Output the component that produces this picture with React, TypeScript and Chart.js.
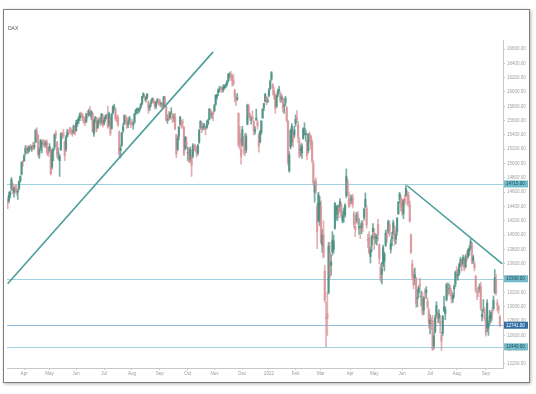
import { useEffect, useRef } from 'react';
import { Chart, registerables } from 'chart.js';

Chart.register(...registerables);

// DAX daily candles, 15 Mar 2021 – 16 Sep 2022 (one line per month)
const opens = [
  14480,14480,14560,14650,14700,14600,14670,14650,14600,14650,14760,14850,15020,
  15040,15150,15220,15180,15200,15240,15210,15250,15230,15300,15450,15390,15130,15220,15270,15310,15290,15260,15300,15160,
  15180,15200,14950,15180,15230,15420,15300,15150,15040,15200,15400,15420,15300,15200,15380,15450,15470,15470,15450,15430,15510,
  15460,15560,15600,15640,15690,15680,15650,15590,15590,15700,15680,15730,15650,15700,15420,15600,15640,15500,15590,15610,15570,15660,
  15560,15620,15660,15680,15540,15640,15490,15710,15780,15760,15640,15640,15440,15180,15260,15460,15560,15650,15630,15550,15600,15580,
  15580,15540,15580,15700,15750,15740,15750,15790,15840,15940,15940,15900,15930,15860,15780,15840,15870,15890,15860,15800,15870,15880,
  15870,15830,15840,15800,15920,15800,15610,15660,15640,15720,15680,15650,15650,15400,15200,15380,15550,15580,15580,15500,15210,15300,
  15150,15200,15060,15100,15100,15230,15240,15180,15150,15300,15500,15560,15500,15520,15500,15500,15560,15620,15740,15690,15700,
  15740,15830,15930,15990,16050,16060,16050,16030,16060,16090,16110,16160,16250,16240,16220,16170,16020,15930,15900,15700,15420,15200,
  15260,15300,15300,15190,15550,15800,15690,15620,15650,15590,15450,15610,15580,15400,15300,15440,15640,15780,15870,15930,15870,
  15950,16050,16180,16100,16020,15950,15800,15960,16020,15980,15900,15910,15800,15850,15780,15590,14900,15230,15300,15430,15400,
  15560,15640,15540,15300,15180,15150,15350,15480,15400,15300,15180,15400,15380,15300,15000,14600,14750,14400,14200,14200,
  14400,13850,14000,13500,12850,12900,13200,13750,13580,13770,13800,14100,14350,14300,14380,14400,14420,14200,14300,14280,14550,14740,14500,
  14460,14480,14530,14300,14120,14200,14290,14100,14100,14100,14150,14250,14400,14370,13950,13960,13700,13860,14050,
  14030,13960,13950,14150,13860,13560,13450,13600,13640,13860,14000,14060,14150,13800,13950,14020,14100,13940,14050,14300,14500,14520,
  14450,14300,14520,14550,14560,14560,14420,14000,13600,13450,13400,13400,13110,13200,13320,13140,13150,12950,13210,13200,13080,12950,
  12760,12800,12810,12450,12650,12880,12900,12840,12800,12600,12630,12950,12900,13100,13250,13250,13260,13200,13110,13250,13320,
  13500,13430,13470,13590,13640,13600,13650,13560,13720,13700,13780,13820,13880,13640,13600,13420,13200,13230,13250,13280,12860,12960,12950,
  12800,12700,12700,12800,12840,12950,12980,13200,13380,13050,13000,12860,
];
const highs = [
  14520,14600,14620,14805,14730,14680,14700,14700,14640,14760,14830,15030,15050,
  15130,15250,15250,15230,15250,15270,15250,15300,15290,15480,15500,15410,15220,15340,15320,15340,15330,15320,15330,15230,
  15280,15220,15200,15220,15420,15460,15310,15220,15130,15430,15440,15480,15320,15390,15480,15470,15510,15500,15470,15540,15530,
  15600,15620,15660,15710,15720,15700,15660,15630,15700,15740,15760,15800,15740,15710,15620,15660,15650,15610,15640,15650,15700,15690,
  15640,15680,15690,15800,15720,15650,15700,15810,15830,15780,15680,15670,15460,15260,15440,15560,15680,15680,15650,15600,15660,15590,
  15620,15580,15700,15760,15780,15770,15790,15840,15940,15990,15960,15940,15980,15880,15830,15890,15920,15910,15870,15870,15910,15900,
  15900,15860,15850,15940,15940,15810,15680,15730,15720,15780,15700,15690,15700,15410,15380,15520,15660,15600,15620,15520,15380,15370,
  15230,15220,15230,15110,15280,15270,15270,15230,15270,15480,15600,15580,15560,15560,15520,15600,15620,15770,15760,15720,15730,
  15830,15960,15970,16040,16080,16080,16070,16100,16100,16120,16160,16260,16270,16290,16250,16240,16040,15950,15980,15710,15520,15350,
  15520,15380,15420,15420,15830,15830,15710,15660,15740,15600,15520,15760,15600,15420,15460,15600,15770,15840,15980,15940,15920,
  16050,16170,16285,16120,16060,15980,15960,16040,16080,16000,15960,15920,15840,15940,15800,15600,15170,15480,15560,15450,15520,
  15680,15740,15590,15360,15260,15280,15500,15570,15470,15330,15420,15440,15400,15330,15040,14760,14800,14440,14600,14540,
  14480,14080,14200,13580,13060,13200,13900,13900,13720,14050,14000,14460,14400,14420,14420,14510,14450,14340,14380,14440,14925,14780,14600,
  14560,14560,14570,14330,14190,14320,14330,14230,14140,14200,14200,14380,14590,14410,14010,14050,13840,14000,14160,
  14090,14020,14010,14220,13880,13600,13620,13860,13760,14070,14070,14210,14200,13940,14040,14210,14130,14050,14250,14470,14600,14560,
  14500,14500,14560,14700,14620,14600,14480,14020,13650,13520,13540,13410,13240,13290,13400,13220,13200,13140,13250,13280,13120,12980,
  12890,12850,12880,12640,12880,13070,12930,12960,12880,12640,12880,13150,13000,13330,13340,13320,13300,13230,13190,13310,13500,
  13560,13520,13610,13690,13660,13720,13670,13730,13770,13810,13850,13950,13900,13720,13630,13440,13250,13280,13320,13340,12960,13100,12990,
  12840,13100,12800,12950,12930,12990,13150,13520,13450,13100,13020,12880,
];
const lows = [
  14370,14450,14520,14620,14580,14530,14590,14560,14500,14630,14740,14840,14960,
  15030,15120,15140,15140,15160,15190,15170,15190,15200,15290,15340,15100,15070,15180,15150,15250,15220,15230,15120,15100,
  15160,14840,14920,15040,15200,15350,15080,15060,14820,15180,15340,15360,15040,15170,15370,15400,15420,15410,15380,15420,15400,
  15450,15520,15560,15600,15640,15600,15560,15530,15570,15640,15660,15680,15610,15440,15380,15570,15440,15490,15560,15530,15550,15510,
  15540,15590,15630,15490,15520,15390,15480,15690,15740,15600,15580,15520,15100,15080,15240,15430,15540,15570,15490,15500,15560,15500,
  15540,15480,15560,15680,15700,15700,15720,15770,15820,15920,15880,15860,15900,15700,15740,15800,15850,15840,15760,15770,15850,15820,
  15800,15790,15760,15790,15830,15590,15560,15600,15620,15690,15570,15590,15470,15080,15180,15330,15530,15490,15500,15110,15190,15210,
  15040,15010,15020,14820,15080,15180,15170,15090,15120,15280,15480,15430,15470,15480,15400,15490,15540,15610,15660,15630,15600,
  15720,15810,15900,15950,16000,16010,15990,16000,16040,16060,16080,16140,16200,16160,16080,16090,15860,15810,15880,15230,15200,14990,
  15240,15130,15110,15150,15540,15650,15600,15550,15600,15400,15410,15600,15480,15160,15290,15410,15630,15740,15860,15820,15850,
  15930,16030,16160,15960,15900,15700,15780,15930,15990,15850,15860,15720,15700,15810,15580,14980,14880,15200,15250,15230,15360,
  15520,15580,15300,15080,15110,15070,15340,15400,15310,15050,15150,15310,15200,15010,14700,14460,14580,13810,14180,14130,
  13880,13760,13680,13060,12438,12600,13180,13400,13440,13720,13750,14080,14220,14200,14240,14330,14250,14170,14180,14250,14520,14560,14380,
  14400,14440,14380,14100,13980,14170,14150,14010,13950,14020,14050,14210,14380,14100,13820,13740,13610,13770,13960,
  13800,13880,13860,13920,13600,13350,13320,13560,13500,13840,13900,14030,13980,13750,13850,14000,13860,13880,14000,14290,14450,14330,
  14280,14230,14420,14540,14420,14400,14180,13740,13380,13250,13310,12990,13000,13130,13230,13010,12880,12890,13110,13120,12970,12700,
  12620,12680,12390,12410,12630,12850,12770,12780,12630,12390,12600,12930,12820,13080,13150,13180,13150,13050,13060,13130,13280,
  13380,13370,13440,13560,13500,13570,13500,13540,13640,13680,13720,13800,13600,13600,13500,13200,13100,13140,13200,12950,12800,12920,12800,
  12590,12650,12600,12750,12780,12810,12950,13180,13160,12940,12900,12720,
];
const closes = [
  14461,14557,14596,14776,14621,14657,14662,14610,14621,14749,14818,15009,15008,
  15107,15212,15176,15203,15234,15216,15234,15209,15255,15460,15368,15129,15196,15320,15280,15296,15249,15292,15155,15136,
  15236,14856,15170,15197,15400,15400,15120,15150,15100,15417,15396,15386,15113,15370,15438,15438,15465,15450,15407,15520,15421,
  15568,15603,15633,15693,15677,15640,15581,15571,15693,15674,15730,15711,15727,15448,15603,15637,15456,15589,15608,15554,15691,15531,
  15603,15650,15662,15511,15692,15421,15688,15790,15789,15629,15630,15540,15133,15216,15422,15514,15669,15618,15519,15570,15640,15544,
  15569,15555,15692,15744,15761,15745,15770,15826,15937,15977,15926,15922,15966,15765,15808,15852,15906,15861,15793,15852,15888,15835,
  15824,15840,15781,15932,15843,15610,15623,15609,15701,15722,15616,15652,15490,15132,15349,15506,15644,15532,15574,15128,15365,15261,
  15157,15036,15195,14973,15252,15207,15199,15147,15250,15463,15587,15474,15516,15522,15473,15543,15600,15758,15705,15696,15689,
  15807,15955,15960,16030,16054,16046,16041,16067,16083,16094,16148,16248,16251,16221,16160,16115,15937,15878,15918,15257,15281,15100,
  15473,15263,15170,15387,15813,15687,15639,15623,15622,15454,15476,15637,15532,15239,15447,15593,15756,15838,15964,15853,15885,
  16021,16152,16271,16052,15948,15768,15942,16010,16032,15883,15933,15772,15810,15912,15603,15011,15123,15460,15524,15318,15471,
  15619,15613,15368,15100,15206,15242,15482,15490,15425,15113,15412,15370,15267,15042,14731,14693,14631,14052,14567,14461,
  13904,14000,13698,13094,12834,12831,13848,13443,13628,13929,13917,14440,14388,14413,14326,14473,14283,14274,14306,14417,14820,14606,14415,
  14446,14518,14424,14151,14078,14283,14192,14124,14076,14164,14149,14362,14502,14142,13924,13757,13795,13979,14097,
  13939,13979,13970,14002,13674,13380,13534,13828,13739,14027,13964,14185,14007,13882,13981,14175,13919,14007,14231,14462,14575,14388,
  14340,14485,14460,14653,14556,14445,14198,13761,13427,13304,13447,13038,13126,13265,13292,13144,12912,13118,13186,13231,13003,12783,
  12813,12773,12401,12594,12843,13015,12832,12905,12756,12519,12864,13000,12959,13308,13246,13254,13210,13097,13166,13282,13484,
  13479,13449,13587,13662,13574,13688,13535,13700,13694,13795,13816,13910,13627,13697,13544,13230,13194,13220,13271,12971,12893,12961,12835,
  12630,13050,12761,12871,12916,12905,13088,13402,13189,13028,12956,12741,
];

// first trading day of each month (index into the candles) and its axis label
const monthTickIndex = [13, 33, 54, 76, 98, 120, 142, 163, 185, 206, 227, 247, 270, 289, 311, 333, 354, 377];
const monthTickLabels = ['Apr', 'May', 'Jun', 'Jul', 'Aug', 'Sep', 'Oct', 'Nov', 'Dec', '2022', 'Feb', 'Mar', 'Apr', 'May', 'Jun', 'Jul', 'Aug', 'Sep'];
const futureSlots = 2;

// price-axis tick values
const yTickValues = [
  12200, 12400, 12600, 12800, 13000, 13200, 13400, 13600, 13800, 14000, 14200, 14400,
  14600, 14800, 15000, 15200, 15400, 15600, 15800, 16000, 16200, 16400, 16600,
];

// drawn price levels and trend lines
const levels = [14715, 13390, 12440];
const lastPrice = 12741;
const trendA = [{ i: 0, v: 13320 }, { i: 162, v: 16560 }];
const trendB = [{ i: 315, v: 14690 }, { i: 390, v: 13600 }];

const yMin = 12144;
const yMax = 16726;

const upColor = 'rgba(66,140,126,0.72)';
const downColor = 'rgba(216,144,149,0.72)';
const trendColor = '#4c9e9b';
const levelColor = 'rgba(128,194,214,0.75)';
const lastColor = 'rgba(110,165,210,0.75)';
const fontFamily = '"Liberation Sans", Arial, sans-serif';

export default function App() {
  const ref = useRef<HTMLCanvasElement>(null);

  useEffect(() => {
    const n = closes.length;
    const labels = Array.from({ length: n + futureSlots }, (_, i) => String(i));
    const colors = closes.map((c, i) => (c >= opens[i] ? upColor : downColor));

    const levelsPlugin = {
      id: 'levels',
      beforeDatasetsDraw(chart: any) {
        const { ctx, chartArea, scales } = chart;
        const y = scales.y;
        ctx.save();
        ctx.lineWidth = 1;
        const all = [...levels.map((v) => ({ v, c: levelColor })), { v: lastPrice, c: lastColor }];
        for (const l of all) {
          const py = Math.round(y.getPixelForValue(l.v)) + 0.5;
          ctx.strokeStyle = l.c;
          ctx.beginPath();
          ctx.moveTo(chartArea.left, py);
          ctx.lineTo(chartArea.right, py);
          ctx.stroke();
        }
        ctx.restore();
      },
      afterDraw(chart: any) {
        const { ctx, chartArea, scales } = chart;
        const y = scales.y;
        ctx.save();
        ctx.font = `4.5px ${fontFamily}`;
        ctx.textBaseline = 'middle';
        ctx.textAlign = 'left';
        const all = [...levels.map((v) => ({ v, bg: '#74bccb', fg: '#1d4e57' })), { v: lastPrice, bg: '#2f6ea6', fg: '#ffffff' }];
        for (const l of all) {
          const py = y.getPixelForValue(l.v);
          const x0 = chartArea.right + 1;
          ctx.fillStyle = l.bg;
          ctx.fillRect(x0, py - 3.5, 24, 7);
          ctx.fillStyle = l.fg;
          ctx.fillText(l.v.toFixed(2), x0 + 2, py + 0.3);
        }
        ctx.restore();
      },
    };

    const chart = new Chart(ref.current as HTMLCanvasElement, {
      type: 'bar',
      data: {
        labels,
        datasets: [
          {
            type: 'line',
            data: trendA.map((p) => ({ x: String(p.i), y: p.v })),
            borderColor: trendColor,
            borderWidth: 1.6,
            pointRadius: 0,
            order: 0,
          } as any,
          {
            type: 'line',
            data: trendB.map((p) => ({ x: String(p.i), y: p.v })),
            borderColor: trendColor,
            borderWidth: 1.6,
            pointRadius: 0,
            order: 0,
          } as any,
          {
            type: 'bar',
            data: lows.map((l, i) => [l, highs[i]]),
            backgroundColor: colors,
            barThickness: 1,
            grouped: false,
            borderWidth: 0,
            order: 2,
          } as any,
          {
            type: 'bar',
            data: opens.map((o, i) => [o, closes[i]]),
            backgroundColor: colors,
            barThickness: 1.6,
            grouped: false,
            borderWidth: 0,
            order: 1,
          } as any,
        ],
      },
      options: {
        responsive: false,
        animation: false,
        devicePixelRatio: 1,
        layout: { padding: { left: 7, right: 6, top: 40, bottom: 12 } },
        plugins: {
          legend: { display: false },
          tooltip: { enabled: false },
          title: { display: false },
        },
        scales: {
          x: {
            type: 'category',
            offset: true,
            grid: { display: true, drawOnChartArea: false, tickLength: 2, color: '#c8c8c8', offset: false },
            border: { display: true, color: '#c8c8c8' },
            ticks: {
              autoSkip: false,
              maxRotation: 0,
              minRotation: 0,
              padding: 1,
              color: '#9a9a9a',
              font: { size: 4.5, family: fontFamily },
              callback: (_v: any, idx: number) => monthTickLabels[idx] ?? '',
            },
            afterBuildTicks: (s: any) => {
              s.ticks = monthTickIndex.map((v) => ({ value: v }));
            },
            afterFit: (s: any) => {
              s.height = 14;
            },
          },
          y: {
            position: 'right',
            min: yMin,
            max: yMax,
            grid: { display: true, drawOnChartArea: false, tickLength: 2, color: '#c8c8c8' },
            border: { display: true, color: '#c8c8c8' },
            ticks: {
              autoSkip: false,
              padding: 2,
              color: '#a0a0a0',
              font: { size: 4.5, family: fontFamily },
              callback: (v: any) => Number(v).toFixed(2),
            },
            afterBuildTicks: (s: any) => {
              s.ticks = yTickValues.map((v) => ({ value: v }));
            },
            afterFit: (s: any) => {
              s.width = 27;
            },
          },
        },
      } as any,
      plugins: [levelsPlugin],
    });

    return () => chart.destroy();
  }, []);

  return (
    <div style={{ position: 'fixed', left: 0, top: 0, width: 536, height: 394, background: '#ffffff' }}>
      <div
        style={{
          position: 'absolute',
          left: 3,
          top: 9,
          width: 525,
          height: 372,
          border: '1px solid #808080',
          boxShadow: '1px 1px 3px rgba(0,0,0,0.3)',
        }}
      />
      <canvas ref={ref} width={536} height={394} style={{ position: 'absolute', left: 0, top: 0 }} />
      <div
        style={{
          position: 'absolute',
          left: 8,
          top: 25,
          fontFamily: '"Liberation Sans", Arial, sans-serif',
          fontSize: 5,
          color: '#555',
        }}
      >
        DAX
      </div>
    </div>
  );
}
